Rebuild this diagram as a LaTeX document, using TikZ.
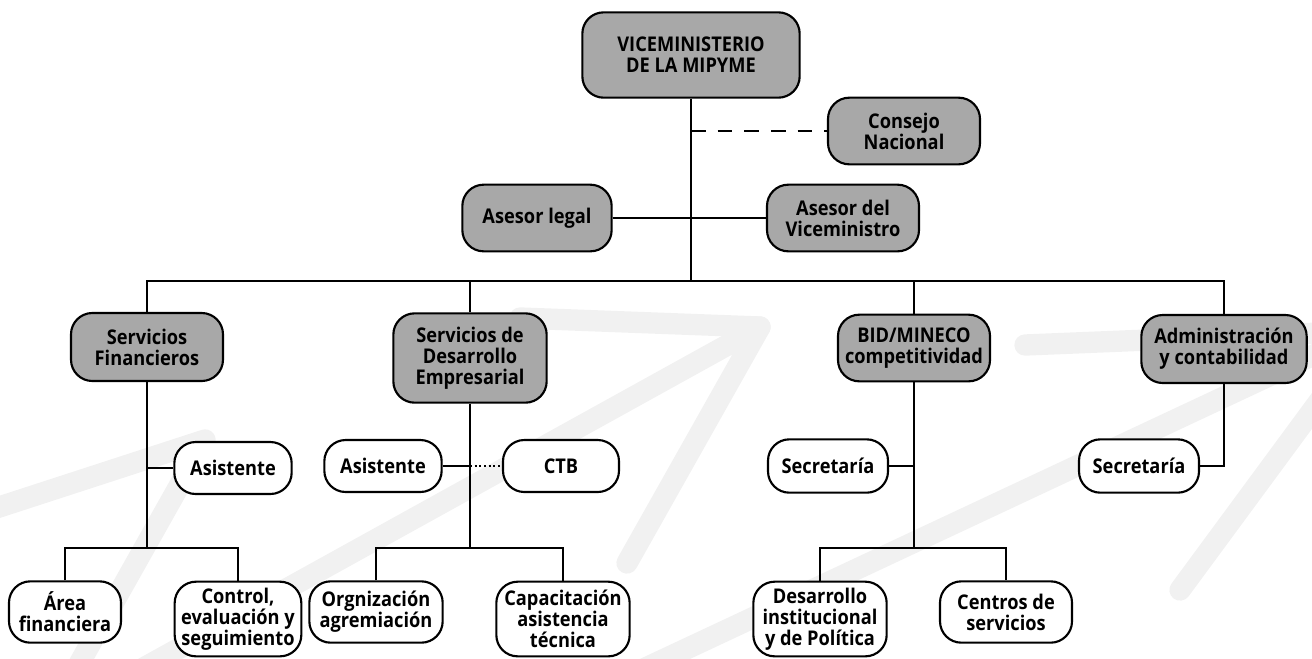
\documentclass[tikz,border=0pt]{standalone}
\usepackage{fontspec}
\setmainfont{Open Sans}[FakeStretch=0.9]
\definecolor{cajagris}{RGB}{168,168,168}
\definecolor{marcagris}{RGB}{241,241,241}
\tikzset{
  caja/.style={draw,line width=1.6pt,rounded corners=16pt,align=center,inner sep=1pt,
    font=\bfseries\fontsize{15.2}{15.8}\selectfont},
  gris/.style={caja,fill=cajagris},
  blanca/.style={caja,fill=white},
  linea/.style={line width=1.5pt},
  marca/.style={line width=16pt,color=marcagris,line cap=round,line join=round}
}
\begin{document}
\begin{tikzpicture}[x=0.75pt,y=-0.75pt]
\useasboundingbox (0,0) rectangle (1312,658);
% marca de agua
\draw[marca] (-10,510)--(205,440)--(70,680);
\draw[marca] (140,670)--(760,327)--(627,563);
\draw[marca] (520,318)--(760,327);
\draw[marca] (620,680)--(1320,352);
\draw[marca] (1025,345)--(1320,333);
\draw[marca] (1180,590)--(1320,400);
% nivel superior
\node[gris,minimum width=163pt,minimum height=64pt] (vice) at (691,55) {VICEMINISTERIO\\DE LA MIPYME};
\node[gris,minimum width=114pt,minimum height=50pt] (consejo) at (904,131) {Consejo\\Nacional};
\node[gris,minimum width=112pt,minimum height=50pt] (asesorl) at (537,218) {Asesor legal};
\node[gris,minimum width=114pt,minimum height=50pt] (asesorv) at (843,218) {Asesor del\\Viceministro};
\coordinate (bus) at (691,281);
% direcciones
\node[gris,minimum width=114pt,minimum height=51pt] (serfin) at (147,347) {Servicios\\Financieros};
\node[gris,minimum width=115pt,minimum height=67pt] (serdes) at (470,358) {Servicios de\\Desarrollo\\Empresarial};
\node[gris,minimum width=114pt,minimum height=50pt] (bid) at (914,348) {BID/MINECO\\competitividad};
\node[gris,minimum width=124pt,minimum height=51pt] (admin) at (1224,349) {Administración\\y contabilidad};
% apoyo
\node[blanca,minimum width=88pt,minimum height=39pt] (asisfin) at (233,468) {Asistente};
\node[blanca,minimum width=88pt,minimum height=39pt] (asisdes) at (383,466) {Asistente};
\node[blanca,minimum width=87pt,minimum height=39pt] (ctb) at (561,466) {CTB};
\node[blanca,minimum width=90pt,minimum height=40pt] (secbid) at (828,466) {Secretaría};
\node[blanca,minimum width=90pt,minimum height=40pt] (secadm) at (1139,466) {Secretaría};
% unidades
\coordinate (busfin) at (147,548);
\coordinate (busdes) at (470,548);
\coordinate (busbid) at (914,548);
\node[blanca,minimum width=84pt,minimum height=46pt] (area) at (65,612) {Área\\financiera};
\node[blanca,minimum width=95pt,minimum height=56pt] (control) at (238,619) {Control,\\evaluación y\\seguimiento};
\node[blanca,minimum width=100pt,minimum height=46pt] (orga) at (376,612) {Orgnización\\agremiación};
\node[blanca,minimum width=100pt,minimum height=56pt] (capa) at (563,619) {Capacitación\\asistencia\\técnica};
\node[blanca,minimum width=100pt,minimum height=56pt] (desa) at (820,619) {Desarrollo\\institucional\\y de Política};
\node[blanca,minimum width=99pt,minimum height=46pt] (centros) at (1006,612) {Centros de\\servicios};
% conexiones
\draw[linea] (vice) -- (bus);
\draw[linea,dash pattern=on 11pt off 9pt] (vice.south |- consejo.west) -- (consejo.west);
\draw[linea] (asesorl) -- (asesorv);
\draw[linea] (serfin.north) |- (bus) -| (admin.north);
\draw[linea] (serdes.north) -- (serdes.north |- bus);
\draw[linea] (bid.north) -- (bid.north |- bus);
\draw[linea] (serfin) -- (busfin);
\draw[linea] (asisfin.west) -- (serfin.south |- asisfin.west);
\draw[linea] (area.north) |- (busfin) -| (control.north);
\draw[linea] (serdes) -- (busdes);
\draw[linea] (asisdes.east) -- (serdes.south |- asisdes.east);
\draw[linea,dotted] (serdes.south |- ctb.west) -- (ctb.west);
\draw[linea] (orga.north) |- (busdes) -| (capa.north);
\draw[linea] (bid) -- (busbid);
\draw[linea] (secbid.east) -- (bid.south |- secbid.east);
\draw[linea] (desa.north) |- (busbid) -| (centros.north);
\draw[linea] (admin.south) |- (secadm.east);
\end{tikzpicture}
\end{document}
